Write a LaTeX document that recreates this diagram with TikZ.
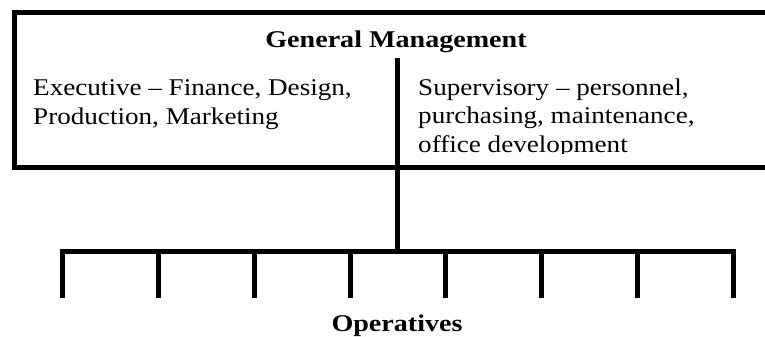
\documentclass[tikz,border=0pt]{standalone}
\usepackage{fontspec}
\setmainfont{Liberation Serif}
\newfontfamily\bodyfont[FakeStretch=1.13]{Liberation Serif}
\newfontfamily\headfont[FakeStretch=1.17]{Liberation Serif}
\begin{document}
\begin{tikzpicture}[x=1pt,y=-1pt,
  thick line/.style={line width=5pt,black},
  body/.style={inner sep=0pt,align=left,font=\bodyfont\fontsize{24}{28.5}\selectfont},
  head/.style={inner sep=0pt,font=\headfont\bfseries\fontsize{24}{28}\selectfont}]
\useasboundingbox (0,0) rectangle (765,337);
\begin{scope}
\clip (0,0) rectangle (765,337);
% outer box (right side runs off the page)
\draw[thick line] (800,12.5) -- (14.5,12.5) -- (14.5,167.5) -- (800,167.5);
\node[head,anchor=base] (gm) at (396,48) {General Management};
\node[body,anchor=base west] (exec) at (33,124) {Executive – Finance, Design,\\Production, Marketing};
\begin{scope}
\clip (400,60) rectangle (765,153);
\node[body,anchor=base west] (sup) at (418,152) {Supervisory – personnel,\\purchasing, maintenance,\\office development};
\end{scope}
% connector
\coordinate (top) at (397.5,58);
\coordinate (bar) at (397.5,251.5);
\coordinate (barL) at (60,251.5);
\coordinate (barR) at (736,251.5);
\draw[thick line] (top) -- (bar);
\draw[thick line] (barL) -- (barR);
\foreach \i in {0,...,7}{
  \coordinate (t\i) at ({62.5+95.86*\i},251.5);
  \coordinate (b\i) at ({62.5+95.86*\i},298);
  \draw[thick line] (t\i) -- (b\i);
}
\node[head,anchor=base] (ops) at (397,331) {Operatives};
\end{scope}
\end{tikzpicture}
\end{document}
